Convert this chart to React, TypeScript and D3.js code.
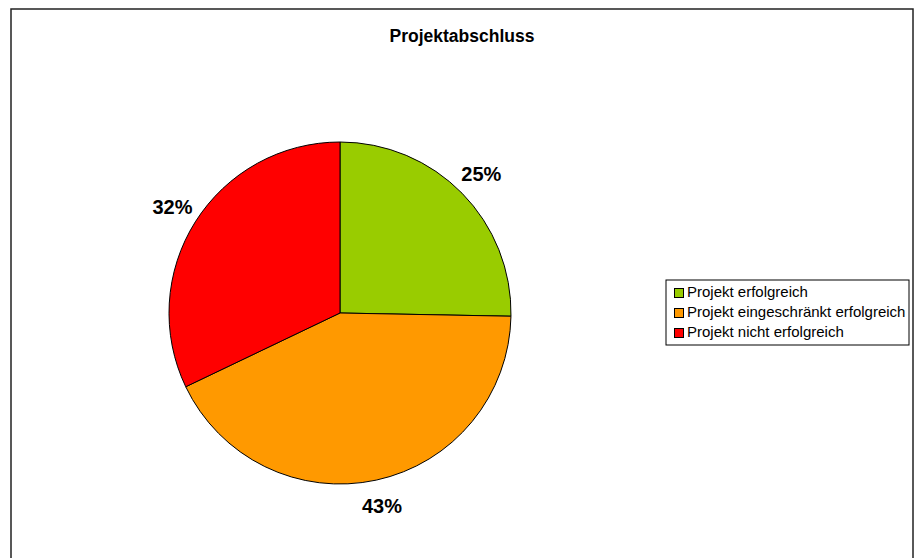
import React, { useEffect, useRef } from 'react';
import * as d3 from 'd3';

const categories = ['Projekt erfolgreich', 'Projekt eingeschränkt erfolgreich', 'Projekt nicht erfolgreich'];
const shares = [25.3, 42.6, 32.1];
const colors = ['#99CC00', '#FF9900', '#FF0000'];
const title = 'Projektabschluss';

const W = 919;
const H = 558;

const App: React.FC = () => {
  const svgRef = useRef<SVGSVGElement>(null);

  useEffect(() => {
    if (!svgRef.current) return;
    const svg = d3.select(svgRef.current);
    svg.selectAll('*').remove();
    const font = '"Liberation Sans", Arial, sans-serif';

    // outer frame
    svg.append('rect')
      .attr('x', 11).attr('y', 9)
      .attr('width', 902).attr('height', 560)
      .attr('fill', '#fff')
      .attr('stroke', '#222')
      .attr('stroke-width', 1.5);

    svg.append('text')
      .attr('x', 462).attr('y', 42)
      .attr('text-anchor', 'middle')
      .attr('font-family', font)
      .attr('font-size', 17.5)
      .attr('font-weight', 'bold')
      .text(title);

    const cx = 340, cy = 313, r = 171;
    const data = categories.map((c, i) => ({ name: c, value: shares[i], color: colors[i] }));
    const pie = d3.pie<typeof data[0]>().value(d => d.value).sort(null);
    const arcs = pie(data);
    const arc = d3.arc<d3.PieArcDatum<typeof data[0]>>().innerRadius(0).outerRadius(r);
    const labelArc = d3.arc<d3.PieArcDatum<typeof data[0]>>().innerRadius(198).outerRadius(198);

    const g = svg.append('g').attr('transform', `translate(${cx},${cy})`);
    g.selectAll('path')
      .data(arcs)
      .enter()
      .append('path')
      .attr('d', arc)
      .attr('fill', d => d.data.color)
      .attr('stroke', '#000')
      .attr('stroke-width', 1);

    g.selectAll('text.lbl')
      .data(arcs)
      .enter()
      .append('text')
      .attr('class', 'lbl')
      .attr('transform', d => `translate(${labelArc.centroid(d)})`)
      .attr('dy', '0.35em')
      .attr('text-anchor', 'middle')
      .attr('font-family', font)
      .attr('font-size', 20)
      .attr('font-weight', 'bold')
      .text(d => `${Math.round(d.data.value)}%`);

    // legend
    const lg = svg.append('g').attr('transform', 'translate(666,280)');
    lg.append('rect')
      .attr('width', 243).attr('height', 65)
      .attr('fill', '#fff')
      .attr('stroke', '#000')
      .attr('stroke-width', 1);
    data.forEach((d, i) => {
      const y = 17 + i * 20;
      lg.append('rect')
        .attr('x', 8.5).attr('y', y - 8.5)
        .attr('width', 9).attr('height', 9)
        .attr('fill', d.color)
        .attr('stroke', '#000')
        .attr('stroke-width', 1);
      lg.append('text')
        .attr('x', 21).attr('y', y)
        .attr('font-family', font)
        .attr('font-size', 15)
        .attr('fill', '#000')
        .text(d.name);
    });
  }, []);

  return (
    <svg ref={svgRef} width={W} height={H}
      style={{ position: 'absolute', left: 0, top: 0 }} />
  );
};

export default App;
